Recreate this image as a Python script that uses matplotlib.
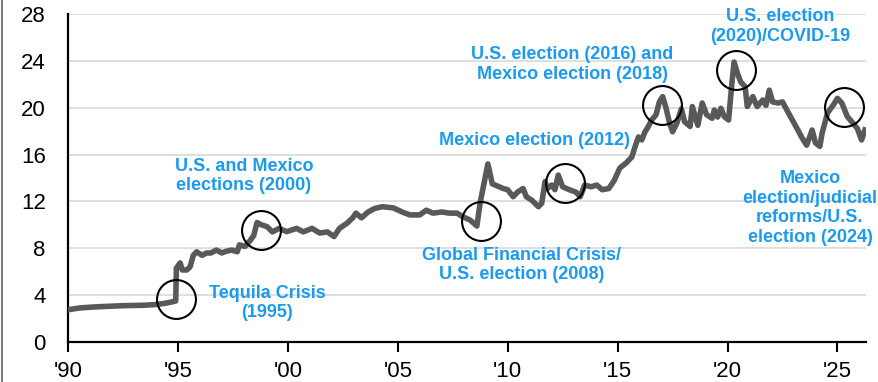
import matplotlib
matplotlib.use("Agg")
import matplotlib.pyplot as plt
from matplotlib.lines import Line2D

plt.rcParams['font.family'] = ['Liberation Sans', 'DejaVu Sans']

# USD/MXN (decimal year, pesos per dollar)
years_90s = [1990.0, 1990.5, 1991.0, 1991.5, 1992.0, 1992.5, 1993.0, 1993.5, 1994.0,
             1994.4, 1994.8, 1994.9, 1994.93, 1995.1, 1995.2, 1995.4, 1995.55, 1995.7,
             1995.85, 1996.1, 1996.3, 1996.5, 1996.75, 1997.0, 1997.2, 1997.45, 1997.7,
             1997.8, 1998.05, 1998.3, 1998.45, 1998.6, 1998.8, 1999.05, 1999.3, 1999.6,
             1999.95]
vals_90s = [2.75, 2.9, 2.97, 3.02, 3.06, 3.1, 3.12, 3.14, 3.2,
            3.3, 3.45, 3.5, 6.3, 6.75, 6.15, 6.15, 6.4, 7.4,
            7.7, 7.4, 7.6, 7.6, 7.85, 7.6, 7.75, 7.85, 7.7,
            8.3, 8.15, 8.7, 9.1, 10.2, 10.0, 9.85, 9.4, 9.7,
            9.42]

years_00s = [2000.4, 2000.7, 2001.1, 2001.45, 2001.8, 2002.1, 2002.35, 2002.7, 2002.95,
             2003.1, 2003.35, 2003.65, 2003.95, 2004.3, 2004.8, 2005.2, 2005.55, 2006.0,
             2006.3, 2006.6, 2007.0, 2007.35, 2007.7, 2007.95, 2008.3, 2008.6, 2008.75,
             2008.95, 2009.1, 2009.3, 2009.55, 2009.8]
vals_00s = [9.7, 9.4, 9.7, 9.3, 9.4, 9.0, 9.7, 10.15, 10.6,
            11.0, 10.6, 11.1, 11.4, 11.55, 11.45, 11.1, 10.85, 10.85,
            11.25, 11.0, 11.1, 11.0, 11.0, 10.7, 10.4, 9.9, 11.9,
            13.8, 15.2, 13.5, 13.3, 13.1]

years_10s = [2010.0, 2010.25, 2010.45, 2010.7, 2010.85, 2011.1, 2011.4, 2011.55, 2011.7,
             2011.8, 2012.0, 2012.15, 2012.3, 2012.5, 2012.8, 2013.1, 2013.3, 2013.5,
             2013.8, 2014.05, 2014.3, 2014.6, 2014.85, 2015.1, 2015.4, 2015.65, 2015.8,
             2015.95, 2016.1, 2016.25, 2016.4, 2016.55, 2016.75, 2016.9, 2017.05, 2017.2,
             2017.35, 2017.5, 2017.7, 2017.9, 2018.05, 2018.3, 2018.4, 2018.65, 2018.85,
             2019.05, 2019.3, 2019.4, 2019.55, 2019.7, 2019.85]
vals_10s = [13.0, 12.4, 12.8, 13.1, 12.4, 12.1, 11.55, 11.85, 13.7,
            13.1, 13.4, 13.0, 14.25, 13.25, 13.0, 12.8, 12.4, 13.4,
            13.25, 13.4, 13.0, 13.1, 13.8, 14.85, 15.3, 15.8, 16.7,
            17.5, 17.25, 17.95, 18.4, 18.95, 19.4, 20.5, 20.95, 20.0,
            18.8, 17.95, 18.7, 19.9, 18.8, 18.4, 20.1, 18.5, 20.4,
            19.4, 19.1, 19.8, 19.2, 19.95, 19.25]

years_20s = [2020.05, 2020.2, 2020.3, 2020.45, 2020.6, 2020.8, 2020.9, 2021.15, 2021.35,
             2021.6, 2021.75, 2021.9, 2022.05, 2022.3, 2022.5, 2022.7, 2022.95, 2023.2,
             2023.4, 2023.6, 2023.85, 2024.0, 2024.2, 2024.3, 2024.55, 2024.8, 2025.0,
             2025.2, 2025.45, 2025.7, 2025.9, 2026.1, 2026.25]
vals_20s = [18.95, 22.1, 23.9, 22.95, 22.2, 21.8, 20.1, 20.95, 20.1,
            20.65, 20.2, 21.5, 20.5, 20.4, 20.5, 19.8, 18.95, 18.1,
            17.4, 16.8, 18.1, 17.0, 16.7, 17.8, 19.55, 20.2, 20.8,
            20.4, 19.25, 18.7, 18.25, 17.25, 18.1]

years = years_90s + years_00s + years_10s + years_20s
vals = vals_90s + vals_00s + vals_10s + vals_20s

# event circles (year, level)
circle_years = [1994.9, 1998.8, 2008.77, 2012.6, 2017.0, 2020.4, 2025.3]
circle_vals = [3.67, 9.56, 10.33, 13.58, 20.24, 23.2, 20.1]

# annotation labels (text, x, y)
labels = ["Tequila Crisis\n(1995)",
          "U.S. and Mexico\nelections (2000)",
          "Global Financial Crisis/\nU.S. election (2008)",
          "Mexico election (2012)",
          "U.S. election (2016) and\nMexico election (2018)",
          "U.S. election\n(2020)/COVID-19",
          "Mexico\nelection/judicial\nreforms/U.S.\nelection (2024)"]
label_x = [1999.05, 1998.0, 2010.62, 2011.2, 2012.95, 2022.4, 2023.75]
label_y = [3.33, 14.17, 6.57, 17.24, 23.69, 26.93, 11.44]

yticks = [0, 4, 8, 12, 16, 20, 24, 28]
xticks = [1990, 1995, 2000, 2005, 2010, 2015, 2020, 2025]
xticklabels = ["'90", "'95", "'00", "'05", "'10", "'15", "'20", "'25"]

LINE = "#58595b"
BLUE = "#1a9af0"

fig = plt.figure(figsize=(8.79, 3.82), dpi=100)
ax = fig.add_axes([68 / 879, 1 - 342 / 382, (866 - 68) / 879, (342 - 14) / 382])

ax.plot(years, vals, color=LINE, lw=4.0, solid_joinstyle='round', zorder=3)
ax.plot(circle_years, circle_vals, 'o', ms=28, mfc='none', mec='black', mew=1.5, zorder=4)

for txt, x, y in zip(labels, label_x, label_y):
    ax.text(x, y, txt, color=BLUE, fontsize=13, fontweight='bold', ha='center',
            va='center', multialignment='center', linespacing=1.2, zorder=5, clip_on=False)

ax.set_xlim(1990, 2026.3)
ax.set_ylim(0, 28)
ax.set_yticks(yticks)
ax.set_xticks(xticks)
ax.set_xticklabels(xticklabels)
ax.yaxis.grid(True, color='#d9d9d9', lw=1.2)
ax.set_axisbelow(True)

for s in ['top', 'right']:
    ax.spines[s].set_visible(False)
for s in ['left', 'bottom']:
    ax.spines[s].set_linewidth(1.6)
    ax.spines[s].set_color('black')

ax.tick_params(axis='y', length=0, pad=16, labelsize=16)
ax.tick_params(axis='x', length=7, width=1.5, pad=7, labelsize=16)

# thin frame edge on the left of the picture
fig.add_artist(Line2D([0.0025, 0.0025], [0, 1], color='#606060', lw=1.2))

fig.savefig("out.png", dpi=100)
